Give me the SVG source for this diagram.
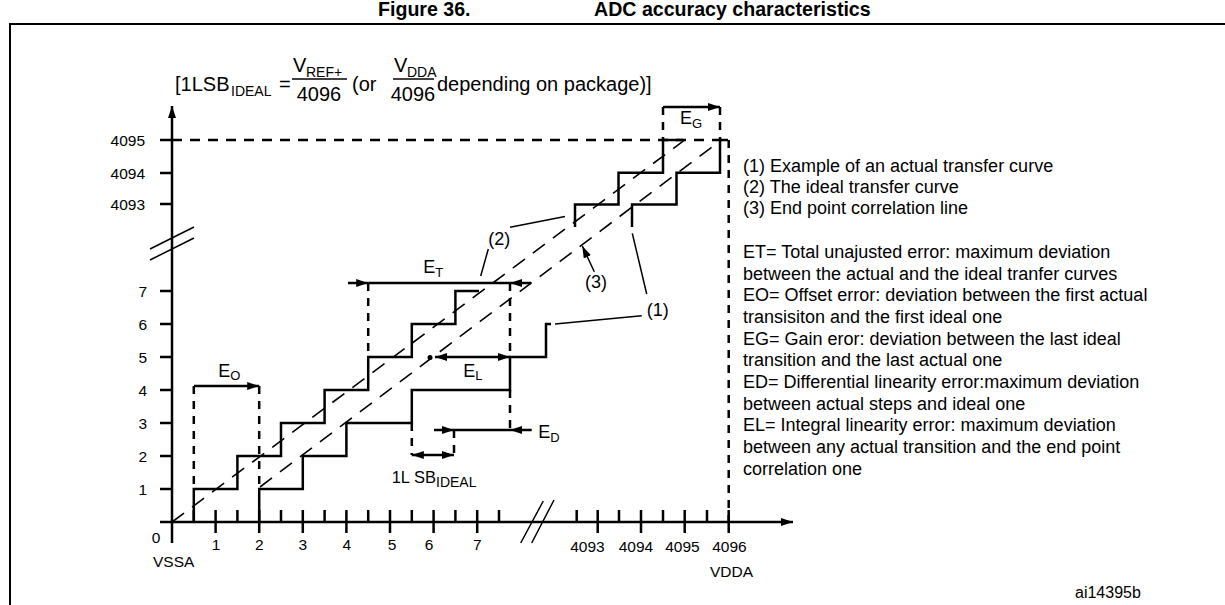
<svg xmlns="http://www.w3.org/2000/svg" width="1225" height="605" viewBox="0 0 1225 605">
<style>
text{font-family:"Liberation Sans",Arial,sans-serif;fill:#000}
.t{font-size:15.5px}
.lg{font-size:18px}
.f{font-size:20px}
.fs{font-size:14px}
.e{font-size:18px}
.es{font-size:13px}
.ln{fill:none;stroke:#000;stroke-width:2.5}
.th{fill:none;stroke:#000;stroke-width:1.5}
.dv{fill:none;stroke:#000;stroke-width:2.5;stroke-dasharray:8 7}
.dh{fill:none;stroke:#000;stroke-width:2.5;stroke-dasharray:10 8}
.dd{fill:none;stroke:#000;stroke-width:1.6;stroke-dasharray:15 10}
</style>
<defs>
<marker id="ah" viewBox="0 0 12 8" refX="12" refY="4" markerWidth="12" markerHeight="8" markerUnits="userSpaceOnUse" orient="auto-start-reverse">
<path d="M0,0 L12,4 L0,8 Z" fill="#000"/>
</marker>
</defs>
<rect width="1225" height="605" fill="#fff"/>
<g id="title">
<text x="378" y="16" style="font-size:19.6px;font-weight:bold">Figure 36.</text>
<text x="594" y="16" style="font-size:19.6px;font-weight:bold">ADC accuracy characteristics</text>
<path d="M10,605 V24 H1225" fill="none" stroke="#000" stroke-width="2"/>
</g>
<g id="formula">
<text class="f" x="175" y="91">[1LSB</text>
<text class="fs" x="231" y="96">IDEAL</text>
<text class="f" x="279" y="91">=</text>
<text class="f" x="293" y="72">V</text>
<text class="fs" x="306" y="77">REF+</text>
<line x1="292" y1="79" x2="347" y2="79" stroke="#000" stroke-width="1.5"/>
<text class="f" x="319" y="101" text-anchor="middle">4096</text>
<text class="f" x="352" y="91">(or</text>
<text class="f" x="394" y="72">V</text>
<text class="fs" x="407" y="77">DDA</text>
<line x1="393" y1="79" x2="434" y2="79" stroke="#000" stroke-width="1.5"/>
<text class="f" x="413" y="101" text-anchor="middle">4096</text>
<text class="f" x="437" y="91">depending on package)]</text>
</g>
<g id="axes">
<line x1="172" y1="543" x2="172" y2="106" class="ln" marker-end="url(#ah)"/>
<line x1="160" y1="522" x2="793" y2="522" class="ln" marker-end="url(#ah)"/>
<path class="ln" d="M160,140H172M160,173H172M160,204H172M160,291H172M160,324H172M160,357H172M160,390H172M160,423H172M160,456H172M160,489H172"/>
<path class="ln" d="M193.8,510V522M215.6,510V533M237.4,510V522M259.2,510V533M281,510V522M302.8,510V533M324.6,510V522M346.4,510V533M368.2,510V522M390,510V533M411.8,510V522M433.6,510V533M455.4,510V522M477.2,510V533M499,510V522"/>
<path class="ln" d="M576.7,510V522M597.7,510V533M619,510V522M641,510V533M663,510V522M684.7,510V533M707,510V522M728.7,510V533"/>
<path class="th" d="M150,249L194,227M150,260L194,238"/>
<path class="th" d="M520.7,543L543.3,501M531.7,543L554,500"/>
<g class="t">
<text x="145" y="145.5" text-anchor="end">4095</text>
<text x="145" y="178.5" text-anchor="end">4094</text>
<text x="145" y="209.5" text-anchor="end">4093</text>
<text x="147" y="296.5" text-anchor="end">7</text>
<text x="147" y="329.5" text-anchor="end">6</text>
<text x="147" y="362.5" text-anchor="end">5</text>
<text x="147" y="395.5" text-anchor="end">4</text>
<text x="147" y="428.5" text-anchor="end">3</text>
<text x="147" y="461.5" text-anchor="end">2</text>
<text x="147" y="494.5" text-anchor="end">1</text>
<text x="156" y="543" text-anchor="middle">0</text>
<text x="216" y="550" text-anchor="middle">1</text>
<text x="259.3" y="550" text-anchor="middle">2</text>
<text x="302.7" y="550" text-anchor="middle">3</text>
<text x="346.7" y="550" text-anchor="middle">4</text>
<text x="392" y="550" text-anchor="middle">5</text>
<text x="429" y="550" text-anchor="middle">6</text>
<text x="477.3" y="550" text-anchor="middle">7</text>
<text x="587.5" y="552" text-anchor="middle">4093</text>
<text x="636" y="552" text-anchor="middle">4094</text>
<text x="682.5" y="552" text-anchor="middle">4095</text>
<text x="729.5" y="552" text-anchor="middle">4096</text>
<text x="153" y="566.5">VSSA</text>
<text x="710" y="576.5">VDDA</text>
</g>
</g>
<g id="ideal-curve">
<path class="ln" d="M193.8,522V489H237.4V456H281V423H324.6V390H368.2V357H411.8V324H455.4V291H479"/>
<path class="ln" d="M575,227V204.5H618.5V172.7H663V140H683"/>
</g>
<g id="actual-curve">
<path class="ln" d="M259.2,522V489H302.8V456H346.4V423H411.8V390H510V357H546V324H551"/>
<path class="ln" d="M632,227V204.5H676.5V172.7H720V140H728"/>
</g>
<g id="lines">
<line class="dd" x1="172" y1="522" x2="690" y2="136"/>
<line class="dd" x1="260" y1="487" x2="720" y2="141"/>
</g>
<g id="guides">
<line class="dh" x1="172" y1="140" x2="728.7" y2="140"/>
<line class="dv" x1="728.7" y1="140" x2="728.7" y2="522"/>
<line class="dv" x1="193.8" y1="386" x2="193.8" y2="489"/>
<line class="dv" x1="259.2" y1="386" x2="259.2" y2="489"/>
<line class="dv" x1="368.2" y1="283" x2="368.2" y2="357"/>
<line class="dv" x1="510" y1="283" x2="510" y2="357"/>
<line class="dv" x1="510" y1="390" x2="510" y2="430"/>
<line class="dv" x1="411.8" y1="423" x2="411.8" y2="455"/>
<line class="dv" x1="454" y1="430" x2="454" y2="455"/>
<line class="dv" x1="663" y1="107" x2="663" y2="140"/>
<line class="dv" x1="720" y1="107" x2="720" y2="140"/>
</g>
<g id="connectors">
<line class="ln" x1="194" y1="386" x2="259.2" y2="386" marker-end="url(#ah)"/>
<line class="ln" x1="348" y1="283" x2="368.2" y2="283" marker-end="url(#ah)"/>
<line class="ln" x1="368.2" y1="283" x2="510" y2="283"/>
<line class="ln" x1="531" y1="283" x2="510" y2="283" marker-end="url(#ah)"/>
<line class="ln" x1="435" y1="357" x2="510" y2="357" marker-start="url(#ah)" marker-end="url(#ah)"/>
<circle cx="430" cy="357.5" r="2.5" fill="#000"/>
<line class="ln" x1="434" y1="430" x2="454" y2="430" marker-end="url(#ah)"/>
<line class="ln" x1="454" y1="430" x2="510" y2="430"/>
<line class="ln" x1="531.7" y1="430" x2="510" y2="430" marker-end="url(#ah)"/>
<line class="ln" x1="411.8" y1="455" x2="454" y2="455" marker-start="url(#ah)" marker-end="url(#ah)"/>
<line class="ln" x1="663" y1="107" x2="720" y2="107" marker-end="url(#ah)"/>
<path class="th" d="M510,227.3L565,216.5M488.3,249L480.7,276"/>
<path class="th" d="M632.3,233.3L646.7,294M555,324L641.7,315.7"/>
<line class="th" x1="594.3" y1="271.7" x2="582.3" y2="246" marker-end="url(#ah)"/>
</g>
<g id="labels">
<text class="e" x="218.3" y="376.7">E<tspan class="es" dy="3.5">O</tspan></text>
<text class="e" x="423.3" y="273.3">E<tspan class="es" dy="3.5">T</tspan></text>
<text class="e" x="463.3" y="376.7">E<tspan class="es" dy="3.5">L</tspan></text>
<text class="e" x="538.3" y="438.3">E<tspan class="es" dy="3.5">D</tspan></text>
<text class="e" x="680" y="124">E<tspan class="es" dy="3.5">G</tspan></text>
<text x="391.7" y="483.3" style="font-size:16.5px">1L SB<tspan dy="3.5" style="font-size:14px">IDEAL</tspan></text>
<text class="lg" x="488.3" y="245">(2)</text>
<text class="lg" x="585" y="288">(3)</text>
<text class="lg" x="646.7" y="316">(1)</text>
</g>
<g id="legend" class="lg">
<text class="lg" x="743" y="171.5">(1) Example of an actual transfer curve</text>
<text class="lg" x="743" y="192.5">(2) The ideal transfer curve</text>
<text class="lg" x="743" y="213.5">(3) End point correlation line</text>
<text class="lg" x="743" y="258">ET= Total unajusted error: maximum deviation</text>
<text class="lg" x="743" y="279.7">between the actual and the ideal tranfer curves</text>
<text class="lg" x="743" y="301.3">EO= Offset error: deviation between the first actual</text>
<text class="lg" x="743" y="323">transisiton and the first ideal one</text>
<text class="lg" x="743" y="344.7">EG= Gain eror: deviation between the last ideal</text>
<text class="lg" x="743" y="366.3">transition and the last actual one</text>
<text class="lg" x="743" y="388">ED= Differential linearity error:maximum deviation</text>
<text class="lg" x="743" y="409.7">between actual steps and ideal one</text>
<text class="lg" x="743" y="431.3">EL= Integral linearity error: maximum deviation</text>
<text class="lg" x="743" y="453">between any actual transition and the end point</text>
<text class="lg" x="743" y="474.7">correlation one</text>
</g>
<g id="ref">
<text x="1075" y="598" style="font-size:16px">ai14395b</text>
</g>
</svg>
